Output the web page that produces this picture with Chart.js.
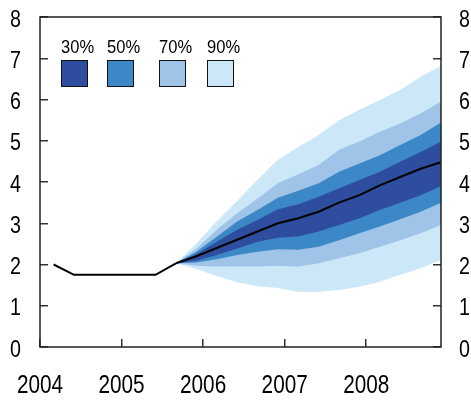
<!DOCTYPE html>
<html>
<head>
<meta charset="utf-8">
<script src="https://cdn.jsdelivr.net/npm/chart.js@4/dist/chart.umd.min.js"></script>
<style>
  html, body { margin: 0; padding: 0; background: #fff; }
  #wrap { width: 471px; height: 400px; }
</style>
</head>
<body>
<div id="wrap"><canvas id="grafico"></canvas></div>
<script>
// Fan chart: historia + pronóstico con bandas de probabilidad 30/50/70/90 %.

var trimestres = [
  '2004Q1', '2004Q2', '2004Q3', '2004Q4',
  '2005Q1', '2005Q2', '2005Q3', '2005Q4',
  '2006Q1', '2006Q2', '2006Q3', '2006Q4',
  '2007Q1', '2007Q2', '2007Q3', '2007Q4',
  '2008Q1', '2008Q2', '2008Q3', '2008Q4'
];
var anios = [2004, 2005, 2006, 2007, 2008];
var ticksY = [0, 1, 2, 3, 4, 5, 6, 7, 8];

// historia 2004Q1 - 2005Q3
var historia = [2.0, 1.75, 1.75, 1.75, 1.75, 1.75, 2.03];

// pronóstico 2005Q3 - 2008Q4
var central = [2.03, 2.2, 2.4, 2.6, 2.8, 3.0, 3.12, 3.28, 3.5, 3.68, 3.92, 4.12, 4.32, 4.48];
var p30alto = [2.03, 2.25, 2.55, 2.84, 3.08, 3.34, 3.46, 3.64, 3.85, 4.05, 4.25, 4.49, 4.73, 4.98];
var p30bajo = [2.03, 2.09, 2.23, 2.39, 2.55, 2.65, 2.68, 2.8, 2.96, 3.12, 3.32, 3.5, 3.68, 3.9];
var p50alto = [2.03, 2.31, 2.67, 3.04, 3.32, 3.62, 3.79, 3.97, 4.25, 4.45, 4.65, 4.9, 5.14, 5.44];
var p50bajo = [2.03, 2.05, 2.13, 2.23, 2.31, 2.37, 2.36, 2.43, 2.59, 2.76, 2.92, 3.1, 3.28, 3.5];
var p70alto = [2.03, 2.39, 2.84, 3.24, 3.6, 3.97, 4.19, 4.41, 4.78, 4.98, 5.22, 5.42, 5.66, 5.95];
var p70bajo = [2.03, 1.97, 1.95, 1.95, 1.95, 1.97, 1.95, 2.03, 2.15, 2.27, 2.43, 2.59, 2.76, 2.96];
var p90alto = [2.03, 2.51, 3.05, 3.54, 4.05, 4.54, 4.85, 5.14, 5.5, 5.75, 5.99, 6.23, 6.55, 6.82];
var p90bajo = [2.03, 1.89, 1.72, 1.57, 1.47, 1.43, 1.34, 1.34, 1.38, 1.46, 1.58, 1.75, 1.91, 2.11];

var bandas = ['30%', '50%', '70%', '90%'];
var coloresBanda = ['#2f4d9f', '#3c88c6', '#9fc4e7', '#cbe7f8'];

// posición decimal del trimestre en el eje
function posTrimestre(q) {
  var y = Number(q.slice(0, 4)), n = Number(q.slice(5));
  return y + (n - 1) / 4 + 1 / 6;
}

var qHist = trimestres.slice(0, historia.length);
var qPron = trimestres.slice(historia.length - 1);

function serie(qs, vals) {
  return vals.map(function (v, i) { return { x: posTrimestre(qs[i]), y: v }; });
}

function banda(vals, color, relleno) {
  return {
    data: serie(qPron, vals),
    borderWidth: 0,
    pointRadius: 0,
    backgroundColor: color,
    fill: relleno,
    tension: 0,
  };
}

var fuente = "'Liberation Sans', Arial, sans-serif";

function sinPadding(s) {
  s.paddingTop = 0; s.paddingBottom = 0; s.paddingLeft = 0; s.paddingRight = 0;
}

// texto angosto (el original usa una Helvetica condensada)
function textoAngosto(c, t, x, y, align, size, esc) {
  c.save();
  c.translate(x, y);
  c.scale(esc, 1);
  c.font = size + 'px ' + fuente;
  c.textAlign = align;
  c.textBaseline = 'alphabetic';
  c.fillStyle = '#000';
  c.fillText(t, 0, 0);
  c.restore();
}

var marco = {
  id: 'marco',
  afterDraw: function (chart) {
    var a = chart.chartArea, c = chart.ctx;
    c.save();
    c.strokeStyle = '#222';
    c.lineWidth = 1.5;
    c.strokeRect(a.left, a.top, a.right - a.left, a.bottom - a.top);
    c.restore();
  },
};

var etiquetas = {
  id: 'etiquetas',
  afterDraw: function (chart) {
    var c = chart.ctx, a = chart.chartArea;
    var sy = chart.scales.y, sx = chart.scales.x;
    sy.ticks.forEach(function (t) {
      var py = sy.getPixelForValue(t.value) + 9.5;
      textoAngosto(c, String(t.value), a.left - 19, py, 'right', 24, 0.82);
      textoAngosto(c, String(t.value), a.right + 18, py, 'left', 24, 0.82);
    });
    sx.ticks.forEach(function (t) {
      textoAngosto(c, String(t.value), sx.getPixelForValue(t.value), a.bottom + 46, 'center', 25, 0.83);
    });
  },
};

var leyenda = {
  id: 'leyendaFan',
  afterDraw: function (chart) {
    var c = chart.ctx;
    var xs = [61, 107, 159, 207];
    bandas.forEach(function (b, i) {
      textoAngosto(c, b, xs[i], 53, 'left', 19, 0.87);
      c.save();
      c.fillStyle = coloresBanda[i];
      c.fillRect(xs[i], 60, 26, 26);
      c.strokeStyle = '#111';
      c.lineWidth = 1;
      c.strokeRect(xs[i] + 0.5, 60.5, 26, 26);
      c.restore();
    });
  },
};

function ejeY(pos, ancho) {
  return {
    type: 'linear',
    position: pos,
    min: 0,
    max: 8,
    afterBuildTicks: function (s) { s.ticks = ticksY.map(function (v) { return { value: v }; }); },
    afterFit: function (s) { s.width = ancho; sinPadding(s); },
    grid: { drawOnChartArea: false, drawTicks: true, tickLength: -8, color: '#333', lineWidth: 1.5 },
    border: { display: false },
    ticks: { color: 'rgba(0,0,0,0)', font: { family: fuente, size: 20 } },
  };
}

new Chart(document.getElementById('grafico'), {
  type: 'line',
  data: {
    datasets: [
      { data: serie(qHist, historia), borderColor: '#000', borderWidth: 2, pointRadius: 0, fill: false },
      { data: serie(qPron, central), borderColor: '#000', borderWidth: 2, pointRadius: 0, fill: false },
      banda(p30alto, coloresBanda[0], '+1'),
      banda(p30bajo, coloresBanda[0], false),
      banda(p50alto, coloresBanda[1], '+1'),
      banda(p50bajo, coloresBanda[1], false),
      banda(p70alto, coloresBanda[2], '+1'),
      banda(p70bajo, coloresBanda[2], false),
      banda(p90alto, coloresBanda[3], '+1'),
      banda(p90bajo, coloresBanda[3], false),
    ],
  },
  options: {
    responsive: true,
    maintainAspectRatio: false,
    animation: false,
    layout: { padding: { top: 17, left: 0, right: 0, bottom: 0 } },
    plugins: { legend: { display: false }, tooltip: { enabled: false } },
    scales: {
      x: {
        type: 'linear',
        min: 2004,
        max: posTrimestre('2008Q4'),
        afterBuildTicks: function (s) { s.ticks = anios.map(function (v) { return { value: v }; }); },
        afterFit: function (s) { s.height = 53; sinPadding(s); },
        grid: { drawOnChartArea: false, drawTicks: true, tickLength: -8, color: '#333', lineWidth: 1.5 },
        border: { display: false },
        ticks: { color: 'rgba(0,0,0,0)', maxRotation: 0, font: { family: fuente, size: 20 },
          callback: function (v) { return String(v); } },
      },
      y: ejeY('left', 40),
      y2: ejeY('right', 30),
    },
  },
  plugins: [marco, etiquetas, leyenda],
});
</script>
</body>
</html>
